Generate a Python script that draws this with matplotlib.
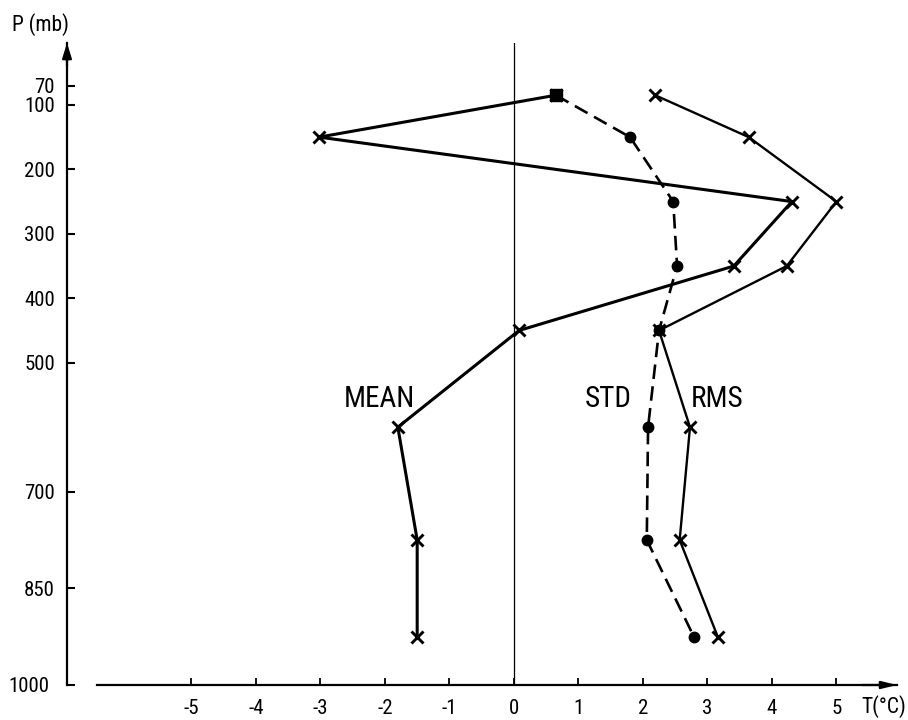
import matplotlib
matplotlib.use("Agg")
import matplotlib.pyplot as plt
import matplotlib.font_manager as fm
from matplotlib.transforms import ScaledTranslation

# ---- data ----
levels = [85, 150, 250, 350, 450, 600, 775, 925]          # layer mid-points (mb)
mean = [0.65, -3.02, 4.31, 3.41, 0.08, -1.80, -1.50, -1.50]
std = [0.65, 1.80, 2.47, 2.53, 2.25, 2.08, 2.06, 2.79]
rms = [2.19, 3.64, 5.00, 4.23, 2.25, 2.73, 2.57, 3.16]

y_ticks = [70, 100, 200, 300, 400, 500, 700, 850, 1000]
y_ticklabels = ["70", "100", "200", "300", "400", "500", "700", "850", "1000"]
x_ticks = [-5, -4, -3, -2, -1, 0, 1, 2, 3, 4, 5]
x_ticklabels = ["-5", "-4", "-3", "-2", "-1", "0", "1", "2", "3", "4", "5"]

# ---- font choice: prefer a narrow sans ----
names = {f.name for f in fm.fontManager.ttflist}
STRETCH = "normal"
if "Liberation Sans Narrow" in names:
    FONT = "Liberation Sans Narrow"
elif "Roboto Condensed" in names:
    FONT = "Roboto Condensed"
else:
    cond = [f for f in fm.fontManager.ttflist
            if f.name == "DejaVu Sans" and "Condensed" in f.fname and f.style == "normal"
            and f.weight in (400, "normal")]
    if cond:
        FONT = "DejaVu Sans"
        STRETCH = "condensed"
    elif "Roboto" in names:
        FONT = "Roboto"
    else:
        FONT = "DejaVu Sans"
plt.rcParams["font.family"] = [FONT]
plt.rcParams["font.stretch"] = STRETCH
narrow = FONT != "Roboto" and not (FONT == "DejaVu Sans" and STRETCH == "normal")
TICK_FS = 15 if narrow else 13.5
LAB_FS = 21 if narrow else 18

fig = plt.figure(figsize=(9.08, 7.2), dpi=100)
ax = fig.add_axes([67 / 908, 35 / 720, 830 / 908, 642 / 720])
ax.set_xlim(-6.93, 5.94)
ax.set_ylim(1000, 4)

for s in ("top", "right"):
    ax.spines[s].set_visible(False)
ax.spines["left"].set_linewidth(1.6)
ax.spines["bottom"].set_linewidth(1.6)
ax.spines["bottom"].set_bounds(-6.47, 5.94)

# arrow heads
ax.annotate("", xy=(-6.93, 4), xytext=(-6.93, 40), xycoords="data",
            arrowprops=dict(arrowstyle="-|>,head_length=0.9,head_width=0.28",
                            color="black", lw=1.6, shrinkA=0, shrinkB=0),
            annotation_clip=False)
ax.annotate("", xy=(5.94, 1000), xytext=(5.4, 1000), xycoords="data",
            arrowprops=dict(arrowstyle="-|>,head_length=0.9,head_width=0.22",
                            color="black", lw=1.6, shrinkA=0, shrinkB=0),
            annotation_clip=False)

ax.set_yticks(y_ticks)
ax.set_yticklabels(y_ticklabels)
ax.set_xticks(x_ticks)
ax.set_xticklabels(x_ticklabels)
ax.tick_params(axis="y", direction="in", length=6, width=1.5, pad=8.6, labelsize=TICK_FS)
ax.tick_params(axis="x", direction="in", length=5, width=1.3, pad=10, labelsize=TICK_FS)
last = ax.get_yticklabels()[-1]
last.set_transform(last.get_transform() + ScaledTranslation(-6 / 100, 0, fig.dpi_scale_trans))

# zero line
ax.axvline(0, color="black", lw=0.9)

# series
ax.plot(rms, levels, color="black", lw=1.7, marker="x", ms=9, mew=2.1, clip_on=False)
ax.plot(std, levels, color="black", lw=1.9, linestyle=(0, (5.5, 2.8)),
        marker="o", ms=7.5, clip_on=False)
ax.plot(mean, levels, color="black", lw=2.2, marker="x", ms=9, mew=2.1, clip_on=False)
ax.plot(mean[:1], levels[:1], color="black", marker="s", ms=8, linestyle="none")

ax.text(-2.09, 557, "MEAN", fontsize=LAB_FS, ha="center", va="center")
ax.text(1.47, 557, "STD", fontsize=LAB_FS, ha="center", va="center")
ax.text(3.15, 557, "RMS", fontsize=LAB_FS, ha="center", va="center")

fig.text(12 / 908, 1 - 25 / 720, "P (mb)", fontsize=TICK_FS + 0.5, ha="left", va="center")
fig.text(906 / 908, 1 - 707 / 720, "T(°C)", fontsize=TICK_FS + 0.5, ha="right", va="center")

fig.savefig("out.png", dpi=100, facecolor="white")
